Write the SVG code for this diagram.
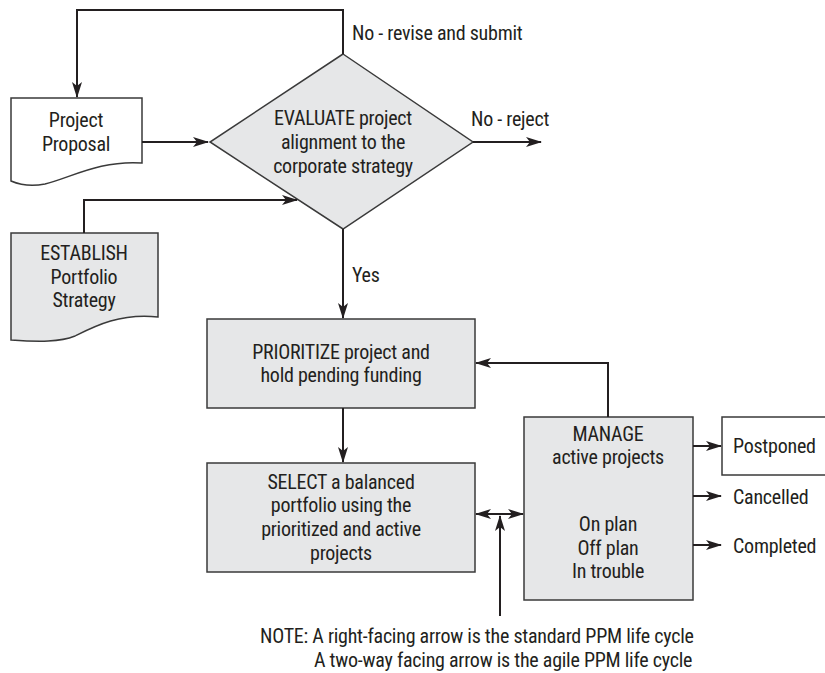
<svg xmlns="http://www.w3.org/2000/svg" width="825" height="673" viewBox="0 0 825 673">
<style>
text{font-family:"Liberation Sans Narrow","Roboto Condensed","Liberation Sans",Arial,sans-serif;font-size:20px;fill:#231f20;letter-spacing:-0.25px}
.c{text-anchor:middle}
.box{fill:#e6e7e8;stroke:#3a3a3a;stroke-width:1.5}
.wbox{fill:#fff;stroke:#3a3a3a;stroke-width:1.5}
.ln{fill:none;stroke:#231f20;stroke-width:2}
</style>
<defs>
<marker id="ah" viewBox="0 0 16 10" refX="15" refY="5" markerWidth="16" markerHeight="10" markerUnits="userSpaceOnUse" orient="auto-start-reverse">
<path d="M0,0 L16,5 L0,10 L4,5 z" fill="#231f20"/>
</marker>
</defs>
<g id="proposal">
<path class="wbox" d="M11,98 H142 V163 C100,160 70,178 45,184 C30,187 18,184 11,181 Z"/>
<text class="c" x="76" y="127">Project</text>
<text class="c" x="76" y="151">Proposal</text>
</g>
<g id="establish">
<path class="box" d="M11,233 H158 V317 C120,313 95,326 75,336 C60,342 40,342 11,340 Z"/>
<text class="c" x="84" y="260">ESTABLISH</text>
<text class="c" x="84" y="284">Portfolio</text>
<text class="c" x="84" y="307">Strategy</text>
</g>
<g id="evaluate">
<path class="box" d="M343,54 L473,142 L343,229 L210,142 Z"/>
<text class="c" x="343" y="125">EVALUATE project</text>
<text class="c" x="343" y="149">alignment to the</text>
<text class="c" x="343" y="173">corporate strategy</text>
</g>
<g id="prioritize">
<rect class="box" x="207" y="319" width="268" height="89"/>
<text class="c" x="341" y="359">PRIORITIZE project and</text>
<text class="c" x="341" y="382">hold pending funding</text>
</g>
<g id="select">
<rect class="box" x="207" y="463" width="268" height="109"/>
<text class="c" x="341" y="489">SELECT a balanced</text>
<text class="c" x="341" y="512">portfolio using the</text>
<text class="c" x="341" y="536">prioritized and active</text>
<text class="c" x="341" y="560">projects</text>
</g>
<g id="manage">
<rect class="box" x="524" y="417" width="169" height="183"/>
<text class="c" x="608" y="441">MANAGE</text>
<text class="c" x="608" y="464">active projects</text>
<text class="c" x="608" y="531">On plan</text>
<text class="c" x="608" y="555">Off plan</text>
<text class="c" x="608" y="578">In trouble</text>
</g>
<g id="postponed">
<rect class="wbox" x="722" y="417" width="110" height="58"/>
<text x="733" y="453">Postponed</text>
</g>
<g id="cancelled"><text x="733" y="504">Cancelled</text></g>
<g id="completed"><text x="733" y="553">Completed</text></g>
<g id="note">
<text x="260" y="643">NOTE: A right-facing arrow is the standard PPM life cycle</text>
<text x="314" y="667">A two-way facing arrow is the agile PPM life cycle</text>
</g>
<g id="connectors">
<path class="ln" d="M343,54 V10 H77 V97" marker-end="url(#ah)"/>
<text x="352" y="40">No - revise and submit</text>
<path class="ln" d="M142,142 H208" marker-end="url(#ah)"/>
<path class="ln" d="M84,233 V200 H297" marker-end="url(#ah)"/>
<path class="ln" d="M473,142 H541" marker-end="url(#ah)"/>
<text x="471" y="126">No - reject</text>
<path class="ln" d="M343,229 V318" marker-end="url(#ah)"/>
<text x="352" y="282">Yes</text>
<path class="ln" d="M343,408 V462" marker-end="url(#ah)"/>
<path class="ln" d="M608,417 V363 H476" marker-end="url(#ah)"/>
<path class="ln" d="M476,514 H523" marker-start="url(#ah)" marker-end="url(#ah)"/>
<path class="ln" d="M500,616 V516" marker-end="url(#ah)"/>
<path class="ln" d="M693,446 H721" marker-end="url(#ah)"/>
<path class="ln" d="M693,496 H721" marker-end="url(#ah)"/>
<path class="ln" d="M693,545 H721" marker-end="url(#ah)"/>
</g>
</svg>
